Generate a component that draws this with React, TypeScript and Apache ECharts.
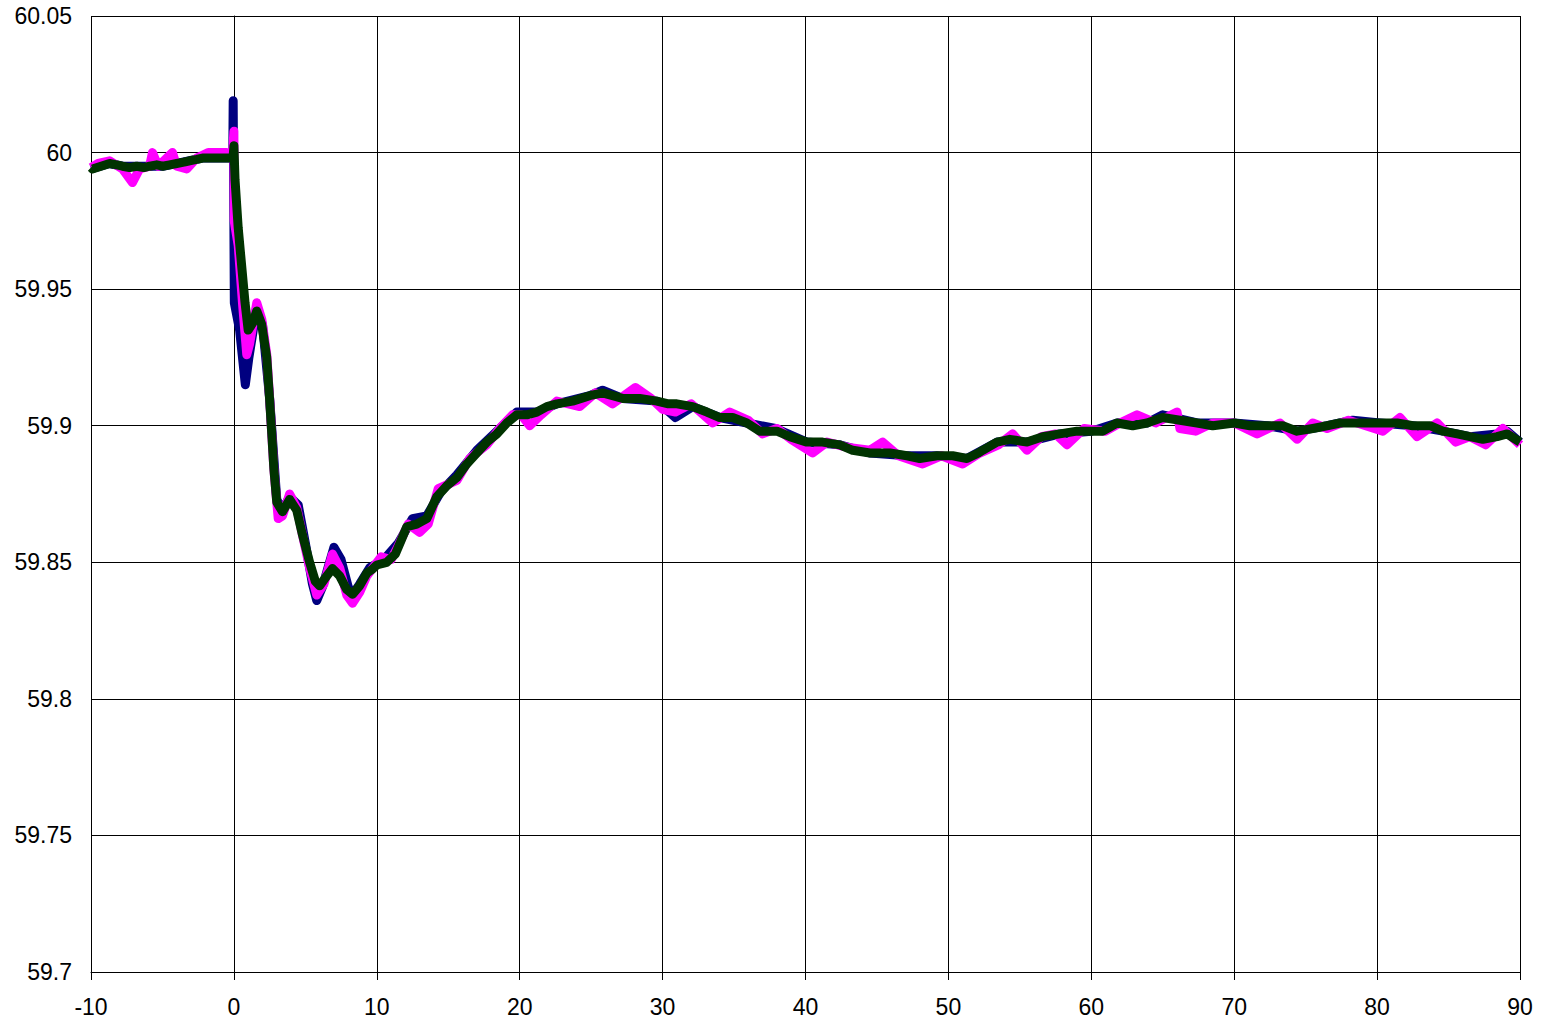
import React, { useEffect, useRef } from "react";
import * as echarts from "echarts";

const X_MIN = -10;
const X_MAX = 90;
const X_STEP = 10;
const Y_MIN = 59.7;
const Y_MAX = 60.05;
const Y_STEP = 0.05;

const seriesNames = ["Navy", "Magenta", "Green"];
const seriesColors = ["#000080", "#FF00FF", "#003300"];

const navyData: [number, number][] = [
  [-10, 59.994], [-8.7, 59.996], [-7.8, 59.995], [-6.8, 59.995], [-5.9, 59.995],
  [-5.0, 59.995], [-4.0, 59.996], [-3.1, 59.997], [-2.2, 59.998], [-1.2, 59.998],
  [-0.3, 59.998], [-0.08, 59.998], [-0.05, 60.019], [0.03, 59.945], [0.4, 59.935],
  [0.8, 59.915], [1.05, 59.925], [1.6, 59.943], [2.0, 59.937], [2.5, 59.91],
  [3.0, 59.873], [3.4, 59.869], [3.9, 59.874], [4.5, 59.871], [5.0, 59.857],
  [5.5, 59.842], [5.8, 59.836], [6.2, 59.841], [7.0, 59.8555], [7.5, 59.851],
  [8.0, 59.841], [8.3, 59.838], [8.8, 59.842], [9.5, 59.848], [10.5, 59.851],
  [11.5, 59.857], [12.5, 59.866], [13.5, 59.867], [14.5, 59.876], [15.6, 59.882],
  [17.0, 59.891], [18.4, 59.898], [19.8, 59.905], [21.2, 59.905], [22.6, 59.908],
  [24.9, 59.911], [25.8, 59.913], [27.2, 59.910], [29.6, 59.909], [30.9, 59.903],
  [32.1, 59.907], [34.0, 59.903], [35.9, 59.901], [37.9, 59.899], [40.1, 59.894],
  [42.4, 59.893], [44.5, 59.890], [47.1, 59.889], [49.2, 59.889], [51.3, 59.888],
  [53.4, 59.894], [55.5, 59.894], [57.8, 59.897], [60.0, 59.898], [61.8, 59.901],
  [63.9, 59.901], [65.0, 59.904], [67.4, 59.901], [70.0, 59.901], [72.3, 59.900],
  [74.4, 59.898], [76.5, 59.900], [78.3, 59.902], [80.2, 59.901], [82.5, 59.900],
  [84.6, 59.898], [86.5, 59.896], [88.4, 59.897], [89.1, 59.898], [90, 59.894],
];

const magentaData: [number, number][] = [
  [-10, 59.9945], [-9.5, 59.996], [-8.7, 59.997], [-7.8, 59.994], [-7.1, 59.989],
  [-6.6, 59.994], [-5.9, 59.995], [-5.7, 60.0], [-5.3, 59.995], [-4.3, 60.0],
  [-4.0, 59.995], [-3.3, 59.994], [-2.6, 59.998], [-1.8, 60.0], [-0.5, 60.0],
  [-0.1, 59.999], [0.0, 60.0078], [0.02, 59.975], [0.3, 59.966], [0.6, 59.945],
  [0.9, 59.926], [1.1, 59.93], [1.6, 59.945], [1.95, 59.939], [2.3, 59.926],
  [2.5, 59.91], [2.8, 59.884], [3.1, 59.866], [3.4, 59.867], [3.9, 59.875],
  [4.4, 59.87], [4.8, 59.86], [5.3, 59.848], [5.8, 59.838], [6.3, 59.842],
  [6.9, 59.853], [7.4, 59.848], [7.9, 59.838], [8.3, 59.835], [8.8, 59.839],
  [9.3, 59.845], [10.3, 59.852], [11.0, 59.851], [11.5, 59.856], [12.2, 59.864],
  [13.0, 59.861], [13.6, 59.864], [14.3, 59.877], [15.6, 59.88], [16.5, 59.888],
  [17.7, 59.893], [18.6, 59.899], [19.5, 59.904], [20.1, 59.904], [20.7, 59.9],
  [21.5, 59.904], [22.6, 59.909], [24.2, 59.907], [25.3, 59.912], [26.5, 59.908],
  [28.1, 59.914], [29.2, 59.91], [30.0, 59.906], [30.9, 59.905], [32.0, 59.908],
  [33.5, 59.901], [34.7, 59.905], [36.0, 59.902], [37.0, 59.897], [38.0, 59.899],
  [39.0, 59.895], [40.5, 59.89], [41.5, 59.894], [43.0, 59.892], [44.5, 59.891],
  [45.4, 59.894], [46.5, 59.889], [48.2, 59.886], [49.5, 59.889], [51.0, 59.886],
  [52.2, 59.89], [53.5, 59.893], [54.5, 59.897], [55.5, 59.891], [56.5, 59.896],
  [57.5, 59.897], [58.3, 59.893], [59.5, 59.899], [61.0, 59.898], [62.0, 59.901],
  [63.2, 59.904], [64.5, 59.901], [66.0, 59.905], [66.2, 59.899], [67.3, 59.898],
  [68.5, 59.901], [70.0, 59.901], [71.6, 59.897], [73.2, 59.901], [74.4, 59.895],
  [75.5, 59.901], [76.5, 59.899], [78.0, 59.902], [80.4, 59.898], [81.6, 59.903],
  [82.8, 59.896], [84.2, 59.901], [85.5, 59.894], [86.5, 59.896], [87.6, 59.893],
  [88.8, 59.899], [90.0, 59.893],
];

const greenData: [number, number][] = [
  [-10, 59.9945], [-9.9, 59.994], [-9.3, 59.995], [-8.7, 59.996], [-8.2, 59.9955],
  [-7.8, 59.995], [-7.3, 59.9945], [-6.8, 59.995], [-6.3, 59.9945], [-5.9, 59.995],
  [-5.4, 59.9955], [-5.0, 59.995], [-4.5, 59.9955], [-4.0, 59.996], [-3.5, 59.9965],
  [-3.1, 59.997], [-2.6, 59.9975], [-2.2, 59.998], [-1.7, 59.998], [-1.2, 59.998],
  [-0.7, 59.998], [-0.3, 59.998], [-0.06, 59.998], [0.0, 60.0025], [0.08, 59.99],
  [0.3, 59.9725], [0.57, 59.957], [0.78, 59.945], [1.0, 59.935], [1.3, 59.9375],
  [1.6, 59.942], [1.95, 59.937], [2.3, 59.925], [2.5, 59.9095], [2.65, 59.897],
  [2.8, 59.884], [3.0, 59.872], [3.4, 59.8685], [3.9, 59.873], [4.4, 59.869],
  [4.8, 59.86], [5.3, 59.85], [5.7, 59.843], [6.0, 59.8414], [6.5, 59.845],
  [6.9, 59.8477], [7.4, 59.845], [7.9, 59.84], [8.3, 59.8383], [8.8, 59.8414],
  [9.3, 59.846], [9.7, 59.8475], [10.0, 59.849], [10.7, 59.85], [11.3, 59.853],
  [11.7, 59.858], [12.1, 59.863], [12.8, 59.864], [13.5, 59.866], [14.2, 59.874],
  [14.9, 59.878], [15.6, 59.881], [16.3, 59.886], [17.0, 59.89], [17.7, 59.894],
  [18.4, 59.897], [19.1, 59.901], [19.8, 59.904], [20.5, 59.904], [21.2, 59.905],
  [21.9, 59.907], [22.6, 59.908], [23.7, 59.909], [24.9, 59.911], [25.8, 59.912],
  [27.2, 59.91], [28.4, 59.91], [29.6, 59.909], [30.4, 59.908], [31.0, 59.908],
  [32.1, 59.907], [33.1, 59.905], [34.0, 59.903], [34.9, 59.903], [35.9, 59.901],
  [36.8, 59.898], [38.0, 59.898], [38.9, 59.896], [40.1, 59.894], [41.2, 59.894],
  [42.4, 59.893], [43.3, 59.891], [44.5, 59.89], [45.9, 59.89], [47.1, 59.889],
  [48.0, 59.888], [49.2, 59.889], [50.3, 59.889], [51.3, 59.888], [52.1, 59.89],
  [52.4, 59.891], [53.4, 59.894], [54.3, 59.895], [55.5, 59.894], [56.6, 59.896],
  [57.8, 59.897], [59.0, 59.898], [60.0, 59.898], [60.8, 59.898], [61.8, 59.901],
  [62.9, 59.9], [63.9, 59.901], [65.0, 59.903], [66.2, 59.902], [67.4, 59.901],
  [68.5, 59.9], [70.0, 59.901], [71.1, 59.9], [72.3, 59.9], [73.4, 59.9],
  [74.4, 59.898], [75.5, 59.899], [76.5, 59.9], [77.4, 59.901], [78.3, 59.901],
  [79.3, 59.901], [80.2, 59.901], [81.4, 59.901], [82.5, 59.9], [83.7, 59.9],
  [84.6, 59.898], [85.6, 59.897], [86.5, 59.896], [87.4, 59.895], [88.4, 59.896],
  [89.1, 59.897], [90, 59.894],
];

const allData = [navyData, magentaData, greenData];

export default function App() {
  const ref = useRef<HTMLDivElement>(null);
  useEffect(() => {
    if (!ref.current) return;
    const chart = echarts.init(ref.current, undefined, { renderer: "svg" });
    const font = "'Liberation Sans', Arial, sans-serif";
    chart.setOption({
      animation: false,
      backgroundColor: "#ffffff",
      grid: { left: 91, right: 24, top: 16, bottom: 48, containLabel: false },
      xAxis: {
        type: "value",
        min: X_MIN,
        max: X_MAX,
        interval: X_STEP,
        axisLine: { show: true, lineStyle: { color: "#000", width: 1 } },
        axisTick: { show: true, length: 8, lineStyle: { color: "#000" } },
        axisLabel: { color: "#000", fontSize: 23, fontFamily: font, margin: 23 },
        splitLine: { show: true, lineStyle: { color: "#000", width: 1 } },
      },
      yAxis: {
        type: "value",
        min: Y_MIN,
        max: Y_MAX,
        interval: Y_STEP,
        axisLine: { show: true, lineStyle: { color: "#000", width: 1 } },
        axisTick: { show: true, length: 8, lineStyle: { color: "#000" } },
        axisLabel: {
          color: "#000",
          fontSize: 23,
          fontFamily: font,
          margin: 19,
          formatter: (v: number) => String(parseFloat(v.toFixed(2))),
        },
        splitLine: { show: true, lineStyle: { color: "#000", width: 1 } },
      },
      series: allData.map((d, i) => ({
        name: seriesNames[i],
        type: "line",
        data: d,
        showSymbol: false,
        symbol: "none",
        lineStyle: { color: seriesColors[i], width: 9, cap: "butt", join: "round" },
        itemStyle: { color: seriesColors[i] },
        z: 2 + i,
      })),
    });
    return () => chart.dispose();
  }, []);
  return (
    <div
      ref={ref}
      style={{ position: "fixed", left: 0, top: 0, width: 1544, height: 1020, background: "#fff" }}
    />
  );
}
